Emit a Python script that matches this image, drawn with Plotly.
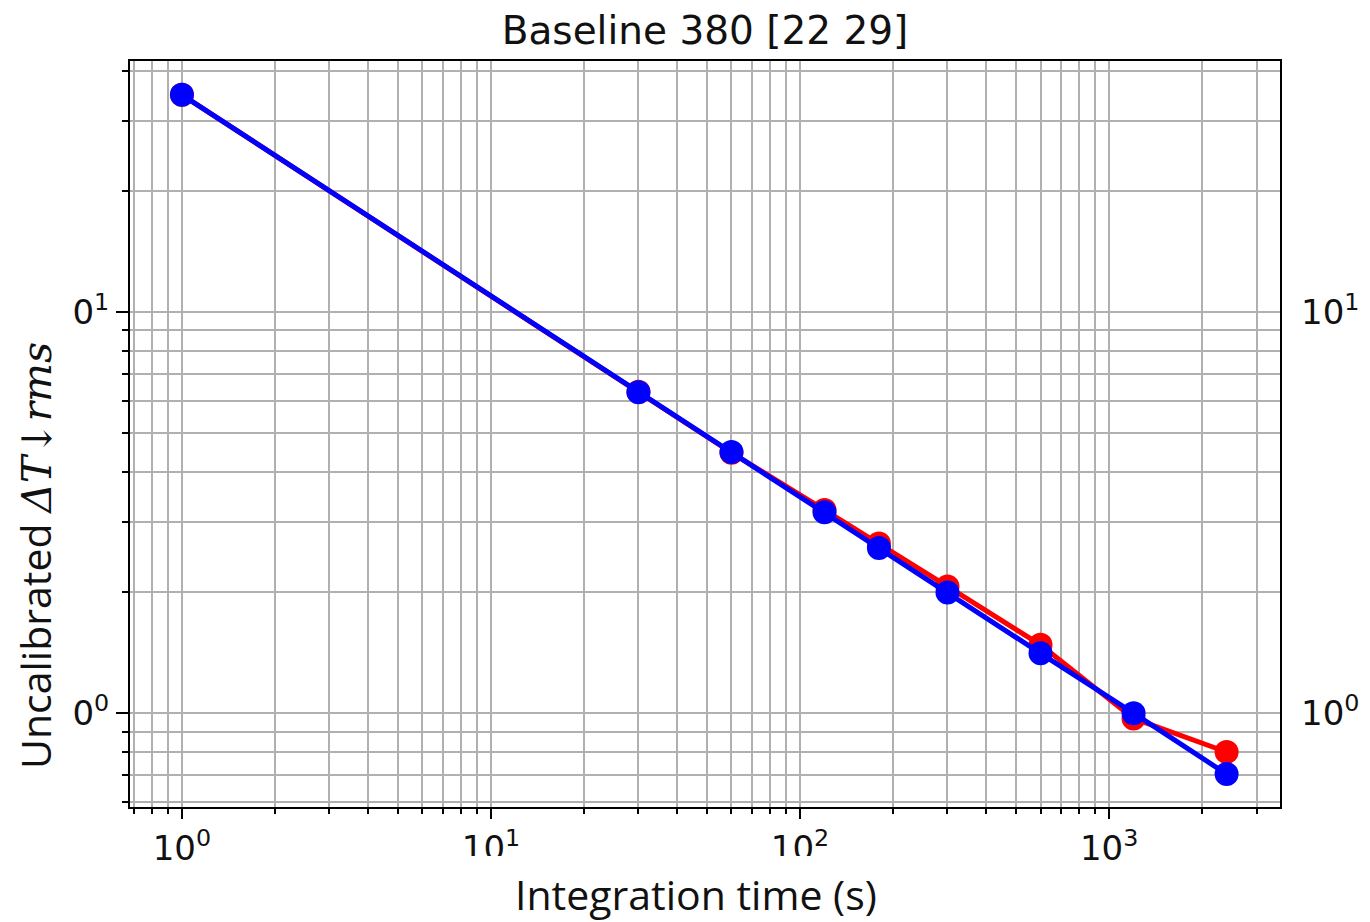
import plotly.graph_objects as go

# Data
integration_time = [1, 30, 60, 120, 180, 300, 600, 1200, 2400]
rms_red = [34.8, 6.33, 4.46, 3.21, 2.65, 2.07, 1.48, 0.97, 0.80]
rms_blue = [34.8, 6.31, 4.48, 3.17, 2.58, 2.00, 1.41, 1.00, 0.705]

x_tickvals = [1, 10, 100, 1000]
x_ticktext = ["10<sup>0</sup>", "10<sup>1</sup>", "10<sup>2</sup>", "10<sup>3</sup>"]
y_tickvals = [1, 10]
y_ticktext_left = ["0<sup>0</sup>", "0<sup>1</sup>"]
y_ticktext_right = ["10<sup>0</sup>", "10<sup>1</sup>"]

x_minor = [0.7, 0.8, 0.9] + [d * 10 ** e for e in range(0, 4) for d in range(2, 10)]
y_minor = [0.6, 0.7, 0.8, 0.9] + [d * 10 ** e for e in range(0, 2) for d in range(2, 10)]

# page body margin offset (default 8px)
O = 8
W, H = 1370 - O, 922 - O
L, R, T, B = 130 - O, 1280 - O, 61 - O, 807 - O
pw, ph = R - L, B - T


def px(x):
    return (x - O - L) / pw


def py(y):
    return (B - (y - O)) / ph


fig = go.Figure()
fig.add_trace(go.Scatter(x=integration_time, y=rms_red, mode="lines+markers",
                         line=dict(color="#ff0000", width=5),
                         marker=dict(color="#ff0000", size=24), showlegend=False))
fig.add_trace(go.Scatter(x=integration_time, y=rms_blue, mode="lines+markers",
                         line=dict(color="#0000ff", width=5),
                         marker=dict(color="#0000ff", size=24), showlegend=False))
# invisible trace to activate the right-hand axis
fig.add_trace(go.Scatter(x=integration_time, y=rms_blue, yaxis="y2", mode="markers",
                         marker=dict(opacity=0), hoverinfo="skip", showlegend=False))

grid_col = "#b0b0b0"
tick_font = dict(family="DejaVu Sans", size=34, color="#111111")

fig.update_layout(
    width=W, height=H,
    margin=dict(l=L, r=W - R, t=T, b=H - B, autoexpand=False),
    plot_bgcolor="white", paper_bgcolor="white",
    title=dict(text="Baseline 380 [22 29]", x=(L + R) / 2 / W, xanchor="center",
               y=1 - (30 - O) / H, yanchor="middle", yref="container",
               font=dict(family="DejaVu Sans", size=39, color="#111111")),
    xaxis=dict(type="log", range=[-0.168, 3.553], tickvals=x_tickvals, ticktext=x_ticktext,
               showgrid=True, gridcolor=grid_col, gridwidth=2,
               showline=True, linecolor="black", linewidth=2, mirror=True,
               ticks="outside", ticklen=10, tickwidth=2, tickcolor="black",
               tickfont=tick_font, zeroline=False,
               minor=dict(tickvals=x_minor, showgrid=True, gridcolor=grid_col, gridwidth=2,
                          ticks="outside", ticklen=5, tickwidth=2, tickcolor="black")),
    yaxis=dict(type="log", range=[-0.234, 1.626], tickvals=y_tickvals, ticktext=y_ticktext_left,
               showgrid=True, gridcolor=grid_col, gridwidth=2,
               showline=True, linecolor="black", linewidth=2, mirror=True,
               ticks="outside", ticklen=12, tickwidth=2, tickcolor="black",
               tickfont=tick_font, zeroline=False,
               minor=dict(tickvals=y_minor, showgrid=True, gridcolor=grid_col, gridwidth=2,
                          ticks="outside", ticklen=6, tickwidth=2, tickcolor="black")),
    yaxis2=dict(type="log", range=[-0.234, 1.626], overlaying="y", side="right",
                tickvals=y_tickvals, ticktext=y_ticktext_right, showgrid=False,
                ticks="", tickfont=tick_font, showline=False, zeroline=False,
                ticklabelstandoff=20),
    shapes=[dict(type="rect", xref="paper", yref="paper", layer="above",
                 x0=px(410), x1=px(890), y0=py(856), y1=py(925),
                 fillcolor="white", line=dict(width=0))],
    annotations=[
        dict(text="Integration time (s)", xref="paper", yref="paper",
             x=px(696), y=py(894), xanchor="center", yanchor="middle", showarrow=False,
             font=dict(family="Open Sans", size=41, color="#111111")),
        dict(text="Uncalibrated <span style='font-family:DejaVu Serif'><i>ΔT↓rms</i></span>",
             xref="paper", yref="paper", textangle=-90,
             x=px(35), y=py(556), xanchor="center", yanchor="middle", showarrow=False,
             font=dict(family="Open Sans", size=41, color="#111111")),
    ],
)

fig.write_html("out.html")
